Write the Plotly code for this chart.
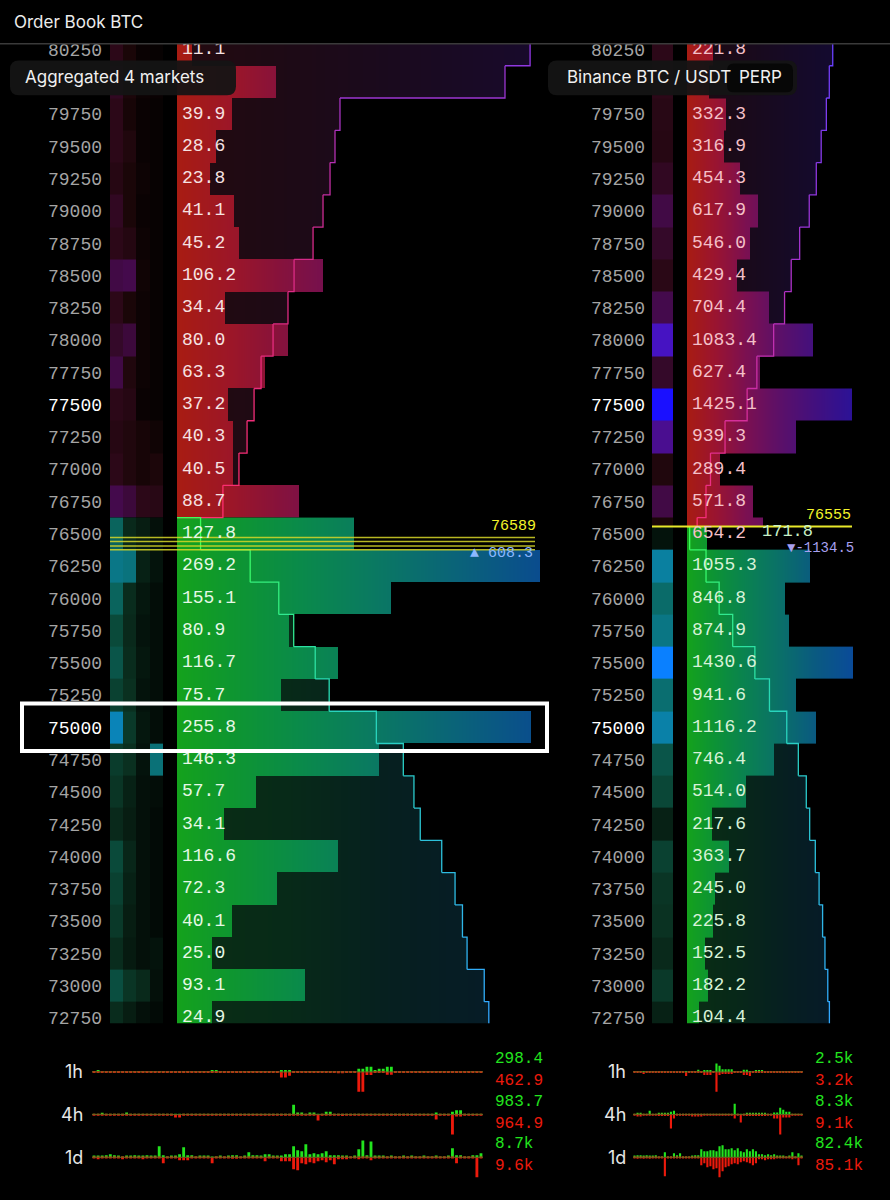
import numpy as np
import plotly.graph_objects as go

W, H = 890, 1200
MONO = "Liberation Mono, DejaVu Sans Mono, monospace"
SANS = "Inter, Noto Sans, sans-serif"

# ---------------------------------------------------------------- data
ask_prices = [80250, 80000, 79750, 79500, 79250, 79000, 78750, 78500,
              78250, 78000, 77750, 77500, 77250, 77000, 76750]
bid_prices = [76500, 76250, 76000, 75750, 75500, 75250, 75000, 74750,
              74500, 74250, 74000, 73750, 73500, 73250, 73000, 72750]
highlight_prices = [77500, 75000]
covered_price = 80000          # row hidden under the market-name boxes

# Aggregated 4 markets
agg_ask_size = [11.1, 72.0, 39.9, 28.6, 23.8, 41.1, 45.2, 106.2, 34.4, 80.0,
                63.3, 37.2, 40.3, 40.5, 88.7]
agg_ask_cum = [1915, 1779, 884, 857, 830, 792, 738, 635, 602, 521, 456, 418,
               380, 336, 249]
agg_bid_size = [127.8, 269.2, 155.1, 80.9, 116.7, 75.7, 255.8, 146.3, 57.7,
                34.1, 116.6, 72.3, 40.1, 25.0, 93.1, 24.9]
agg_mid = 76589
agg_market_last = [76470, 76440, 76405, 76375]
agg_delta = 608.3

# Binance BTC/USDT perp
bn_ask_size = [221.8, 190.0, 332.3, 316.9, 454.3, 617.9, 546.0, 429.4, 704.4,
               1083.4, 627.4, 1425.1, 939.3, 289.4, 571.8]
bn_bid_size = [1055.3, 846.8, 874.9, 1430.6, 941.6, 1116.2, 746.4, 514.0,
               217.6, 363.7, 245.0, 225.8, 152.5, 182.2, 104.4]
bn_mid = 76555
bn_mid_ask = 654.2
bn_mid_bid = 171.8
bn_delta = -1134.5

# history strips (relative intensity)
agg_ask_strip = [[0.35, 0.20, 0.08, 0.05], [0.38, 0.22, 0.10, 0.08],
                 [0.35, 0.18, 0.08, 0.05], [0.35, 0.25, 0.08, 0.05],
                 [0.30, 0.20, 0.10, 0.05], [0.38, 0.20, 0.08, 0.05],
                 [0.35, 0.28, 0.10, 0.05], [0.48, 0.50, 0.12, 0.05],
                 [0.35, 0.20, 0.10, 0.05], [0.40, 0.45, 0.10, 0.05],
                 [0.48, 0.25, 0.10, 0.05], [0.35, 0.30, 0.08, 0.05],
                 [0.30, 0.25, 0.18, 0.12], [0.35, 0.25, 0.18, 0.22],
                 [0.50, 0.45, 0.35, 0.32]]
agg_bid_strip = [[0.62, 0.30, 0.22, 0.12], [0.75, 0.72, 0.25, 0.15],
                 [0.62, 0.32, 0.18, 0.10], [0.50, 0.30, 0.15, 0.10],
                 [0.55, 0.32, 0.18, 0.10], [0.45, 0.35, 0.15, 0.10],
                 [0.88, 0.40, 0.18, 0.10], [0.42, 0.35, 0.15, 0.70],
                 [0.38, 0.25, 0.12, 0.10], [0.30, 0.22, 0.12, 0.08],
                 [0.50, 0.28, 0.12, 0.08], [0.45, 0.25, 0.12, 0.08],
                 [0.40, 0.22, 0.12, 0.08], [0.32, 0.20, 0.12, 0.15],
                 [0.52, 0.38, 0.30, 0.12], [0.32, 0.22, 0.12, 0.08]]
bn_ask_strip = [0.35, 0.35, 0.32, 0.30, 0.38, 0.48, 0.40, 0.33, 0.50, 0.78,
                0.40, 1.00, 0.62, 0.25, 0.48]
bn_mid_ask_strip = 0.20
bn_bid_strip = [0.82, 0.66, 0.74, 1.00, 0.68, 0.84, 0.55, 0.48, 0.25, 0.45,
                0.38, 0.36, 0.30, 0.40, 0.25]
bn_mid_bid_strip = 0.15

# traded volume sparklines (relative volume per bar)
l1h_buy = [0.2, 1.0, 0.4, 0.2, 0.2, 0.2, 0.2, 0.2, 0.2, 0.2,
           0.2, 0.2, 0.2, 0.2, 0.2, 0.2, 0.2, 0.2, 0.3, 0.8,
           0.3, 0.2, 0.2, 0.2, 0.2, 0.2, 0.2, 0.2, 0.3, 1.2,
           1.0, 0.3, 0.2, 0.2, 0.2, 0.2, 0.2, 0.2, 0.2, 0.2,
           0.2, 0.2, 0.2, 0.2, 0.2, 0.2, 1.7, 1.7, 1.0, 0.3,
           0.3, 0.2, 0.2, 0.2, 0.5, 0.3, 0.2, 0.2, 0.2, 0.2,
           0.3, 0.3, 0.2, 0.2, 0.2, 3.0, 3.0, 5.0, 5.0, 1.0,
           3.0, 3.0, 5.0, 5.0, 0.3, 0.2, 0.2, 0.2, 0.2, 0.2,
           0.2, 0.2, 0.2, 0.2, 0.2, 0.2, 0.2, 0.2, 0.2, 0.2,
           0.2, 0.2, 0.2, 0.2, 0.2, 0.2]
l1h_sell = [0.2, 0.3, 0.2, 0.2, 0.2, 0.2, 0.3, 0.2, 0.2, 0.2,
            0.2, 0.2, 0.3, 0.2, 0.2, 0.2, 0.2, 0.2, 0.2, 0.2,
            0.2, 0.2, 0.2, 0.2, 0.2, 0.2, 0.2, 0.2, 0.2, 0.3,
            0.4, 0.2, 0.2, 0.2, 0.2, 0.2, 0.2, 0.2, 0.2, 0.2,
            0.2, 0.2, 0.2, 0.2, 0.2, 0.3, 5.3, 5.3, 3.7, 0.3,
            0.2, 0.2, 0.2, 0.2, 0.2, 0.2, 0.2, 0.2, 0.2, 0.3,
            1.2, 1.2, 0.2, 0.2, 0.2, 19.0, 19.0, 3.0, 3.0, 0.3,
            1.0, 1.0, 2.7, 2.7, 0.3, 0.2, 0.2, 0.2, 0.2, 0.2,
            0.2, 0.2, 0.2, 0.2, 0.2, 0.2, 0.2, 0.2, 0.2, 0.2,
            0.2, 0.2, 0.2, 0.2, 0.2, 0.2]
l4h_buy = [0.3, 0.3, 1.0, 0.3, 0.3, 0.3, 0.3, 0.3, 2.0, 0.3,
           0.3, 0.3, 0.3, 0.3, 0.3, 0.3, 0.3, 0.3, 0.3, 0.3,
           0.7, 0.7, 0.3, 0.3, 0.3, 0.3, 0.3, 0.3, 0.3, 0.3,
           0.3, 0.3, 0.3, 0.3, 0.3, 0.3, 0.3, 0.3, 0.3, 0.3,
           0.3, 0.3, 0.3, 0.3, 0.3, 0.3, 0.3, 0.3, 0.3, 10.0,
           2.0, 2.0, 0.3, 2.0, 2.0, 0.3, 0.3, 3.0, 3.0, 0.3,
           0.3, 0.3, 0.3, 0.3, 0.3, 0.3, 0.3, 0.3, 0.3, 0.3,
           0.3, 0.3, 0.3, 0.3, 0.3, 0.3, 0.3, 0.3, 0.3, 0.3,
           0.3, 0.3, 0.3, 0.3, 2.0, 0.3, 0.3, 0.3, 3.0, 4.5,
           4.5, 0.3, 0.3, 0.3, 0.3, 0.3]
l4h_sell = [0.3, 0.3, 0.3, 0.3, 0.3, 0.3, 0.3, 0.3, 0.3, 0.3,
            0.3, 0.3, 0.3, 0.3, 0.3, 0.3, 0.3, 0.3, 0.3, 0.3,
            3.0, 3.0, 0.3, 0.3, 0.3, 0.3, 0.3, 0.3, 0.3, 0.3,
            0.3, 0.3, 0.3, 0.3, 0.3, 0.3, 0.3, 0.3, 0.3, 0.3,
            0.3, 0.3, 0.3, 0.3, 0.3, 0.3, 0.3, 0.3, 0.3, 0.3,
            0.3, 0.3, 0.3, 0.3, 0.3, 6.0, 0.3, 0.3, 0.3, 0.3,
            0.3, 1.5, 0.3, 0.3, 0.3, 0.3, 0.3, 0.3, 0.3, 0.3,
            0.3, 0.3, 0.3, 0.3, 0.3, 0.3, 0.3, 0.3, 0.3, 0.3,
            0.3, 0.3, 0.3, 0.3, 5.0, 0.3, 0.3, 0.3, 20.0, 2.0,
            2.0, 0.3, 0.3, 0.3, 0.3, 0.3]
l1d_buy = [1.0, 1.5, 1.0, 2.0, 3.0, 2.0, 1.0, 0.5, 1.5, 1.0,
           2.0, 1.0, 1.5, 2.0, 1.5, 1.0, 11.0, 2.0, 0.5, 1.0,
           1.0, 3.0, 10.0, 2.0, 2.0, 0.5, 1.5, 1.0, 1.5, 0.5,
           0.5, 1.0, 0.5, 1.0, 2.0, 2.0, 0.5, 1.0, 5.0, 2.0,
           2.0, 1.0, 3.0, 3.0, 1.0, 1.0, 1.0, 3.0, 3.0, 11.0,
           7.0, 6.0, 13.0, 3.0, 4.0, 3.0, 4.0, 6.0, 2.0, 2.0,
           2.0, 1.5, 1.0, 0.5, 1.0, 8.0, 17.0, 2.0, 16.0, 1.0,
           1.0, 1.0, 0.5, 1.0, 0.5, 0.5, 1.0, 0.5, 1.0, 0.5,
           0.5, 1.0, 0.5, 0.5, 1.0, 0.5, 0.5, 1.0, 9.0, 2.0,
           2.0, 0.5, 0.5, 2.0, 2.0, 4.0]
l1d_sell = [0.5, 2.0, 1.0, 0.5, 1.0, 0.5, 1.0, 2.0, 0.5, 1.0,
            0.5, 1.0, 2.0, 0.5, 1.0, 0.5, 1.0, 6.0, 1.0, 0.5,
            1.0, 3.0, 3.0, 3.0, 1.0, 0.5, 1.0, 0.5, 1.0, 6.0,
            1.0, 0.5, 1.0, 0.5, 1.5, 1.5, 0.5, 1.0, 0.5, 1.0,
            0.5, 1.0, 4.0, 1.0, 0.5, 1.0, 4.0, 4.0, 4.0, 12.0,
            13.0, 6.0, 7.0, 5.0, 6.0, 4.0, 3.0, 5.0, 3.0, 7.0,
            2.0, 2.0, 2.0, 0.5, 1.0, 2.0, 1.0, 0.5, 3.0, 1.0,
            0.5, 1.0, 0.5, 0.5, 1.0, 0.5, 0.5, 1.0, 0.5, 1.0,
            0.5, 1.0, 0.5, 1.0, 0.5, 0.5, 1.0, 0.5, 1.0, 6.0,
            1.0, 1.0, 0.5, 0.5, 20.0, 1.0]

r1h_buy = [0.3, 0.3, 0.5, 0.5, 0.3, 0.3, 0.3, 0.3, 0.3, 0.3,
           0.3, 0.3, 0.3, 0.3, 0.3, 0.3, 0.3, 0.3, 0.5, 0.5,
           0.5, 2.0, 0.5, 1.5, 1.5, 1.5, 0.5, 8.0, 6.0, 2.5,
           2.5, 2.5, 2.5, 0.5, 0.5, 0.5, 2.0, 2.0, 0.5, 0.5,
           1.0, 1.0, 1.0, 0.5, 0.3, 0.3, 0.3, 0.3, 0.3, 0.3,
           0.3, 0.3, 0.3, 0.3, 0.3, 0.3]
r1h_sell = [0.3, 0.3, 0.3, 2.0, 1.0, 0.3, 0.3, 0.3, 0.3, 0.3,
            0.3, 0.3, 0.3, 0.3, 0.3, 0.3, 0.3, 4.0, 1.0, 1.0,
            0.3, 0.3, 0.3, 3.0, 3.0, 3.0, 0.3, 19.0, 3.0, 2.0,
            2.0, 2.0, 2.0, 0.3, 0.3, 0.3, 3.0, 3.0, 4.0, 0.3,
            0.3, 0.3, 0.3, 0.3, 0.3, 0.3, 0.3, 0.3, 0.3, 0.3,
            0.3, 0.3, 0.3, 0.3, 0.3, 0.3]
r4h_buy = [0.4, 1.0, 1.0, 0.4, 0.4, 4.0, 0.4, 0.4, 1.5, 1.5,
           1.5, 1.5, 3.0, 4.0, 0.4, 0.4, 0.4, 0.4, 0.4, 0.4,
           0.4, 0.4, 0.4, 0.4, 0.4, 0.4, 0.4, 0.4, 0.4, 0.4,
           0.4, 0.4, 0.4, 11.0, 0.4, 0.4, 0.4, 1.0, 1.0, 1.0,
           1.0, 1.0, 1.0, 1.0, 0.4, 0.4, 2.0, 2.0, 7.0, 5.0,
           3.0, 3.0, 0.4, 0.4, 0.4, 0.4]
r4h_sell = [0.4, 2.0, 2.0, 0.4, 0.4, 0.4, 0.4, 0.4, 1.5, 1.5,
            1.5, 1.5, 14.0, 4.0, 0.4, 0.4, 0.4, 0.4, 0.4, 2.0,
            2.0, 2.0, 2.0, 0.4, 0.4, 0.4, 0.4, 0.4, 0.4, 0.4,
            0.4, 0.4, 0.4, 4.0, 0.4, 8.0, 0.4, 1.5, 1.5, 1.5,
            1.5, 1.5, 1.5, 1.5, 0.4, 0.4, 4.0, 4.0, 20.0, 3.0,
            3.0, 3.0, 0.4, 0.4, 0.4, 0.4]
r1d_buy = [1.0, 2.0, 2.0, 1.5, 2.0, 1.0, 1.5, 2.0, 0.5, 0.5,
           5.0, 0.5, 0.5, 4.0, 2.0, 4.0, 0.5, 0.5, 0.5, 1.0,
           2.0, 2.0, 8.0, 6.0, 6.0, 7.0, 7.0, 6.0, 11.0, 12.0,
           8.0, 8.0, 9.0, 7.0, 9.0, 6.0, 5.0, 8.0, 6.0, 8.0,
           6.0, 3.0, 3.0, 2.0, 3.0, 2.0, 3.0, 1.0, 1.0, 1.0,
           0.5, 1.0, 5.0, 0.5, 4.0, 1.0]
r1d_sell = [1.0, 1.5, 1.0, 1.5, 1.0, 1.5, 1.0, 1.0, 0.5, 0.5,
            19.0, 0.5, 0.5, 1.0, 0.5, 1.0, 0.5, 0.5, 0.5, 0.5,
            1.0, 1.0, 8.0, 6.0, 10.0, 9.0, 12.0, 11.0, 20.0, 14.0,
            10.0, 9.0, 7.0, 6.0, 7.0, 5.0, 4.0, 5.0, 6.0, 8.0,
            6.0, 2.0, 2.0, 3.0, 2.0, 2.0, 2.0, 1.0, 1.0, 1.0,
            0.5, 0.5, 2.0, 0.5, 8.0, 1.0]

spark_labels = ["1h", "4h", "1d"]
agg_spark_totals = [("298.4", "462.9"), ("983.7", "964.9"), ("8.7k", "9.6k")]
bn_spark_totals = [("2.5k", "3.2k"), ("8.3k", "9.1k"), ("82.4k", "85.1k")]

# ---------------------------------------------------------------- geometry
ROW = 250
Y_RANGE = [72707.8, 80295.8]
DEPTH_SCALE = 0.1336          # cumulative depth drawn at this fraction of the bar scale
K_L, X0_L = 1.38, 177          # px per BTC, pixel of zero (left)
K_R, X0_R = 0.116, 687         # px per BTC, pixel of zero (right)
XR_L = [(110 - X0_L) / K_L, (540 - X0_L) / K_L]
XR_R = [(652 - X0_R) / K_R, (855 - X0_R) / K_R]
Y_DOM = [1 - 1028 / H, 1 - 41 / H]


def px_x(px):
    return px / W


def px_y(py):
    return 1 - py / H


def hex2rgb(h):
    h = h.lstrip('#')
    return [int(h[i:i + 2], 16) for i in (0, 2, 4)]


def interp_color(stops, t):
    t = min(max(t, 0), 1)
    for (p0, c0), (p1, c1) in zip(stops[:-1], stops[1:]):
        if p0 <= t <= p1:
            f = 0 if p1 == p0 else (t - p0) / (p1 - p0)
            a, b = hex2rgb(c0), hex2rgb(c1)
            return 'rgb(%d,%d,%d)' % tuple(round(a[i] + (b[i] - a[i]) * f) for i in range(3))
    return stops[-1][1]


fig = go.Figure()


def depth_heatmap(y_edges, sizes, depths, xmax, step, bar_stops, bg_stops, xa, ya):
    edges = np.arange(0, xmax + step, step)
    centers = edges[:-1] + step / 2
    z = []
    for s, d in zip(sizes, depths):
        row = []
        for c in centers:
            if c < s:
                row.append(1 + c / xmax)
            elif c < d:
                row.append(c / xmax * 0.999)
            else:
                row.append(None)
        z.append(row)
    cs = [[p * 0.4995, col] for p, col in bg_stops] + [[0.5 + p * 0.5, col] for p, col in bar_stops]
    fig.add_trace(go.Heatmap(x=list(edges), y=list(y_edges), z=z, zmin=0, zmax=2,
                             colorscale=cs, showscale=False, hoverinfo='skip',
                             xaxis=xa, yaxis=ya, zsmooth=False))


def strip_heatmap(x_edges, y_edges, z, cs, xa, ya):
    fig.add_trace(go.Heatmap(x=x_edges, y=y_edges, z=z, zmin=0, zmax=1, colorscale=cs,
                             showscale=False, hoverinfo='skip', xaxis=xa, yaxis=ya,
                             zsmooth=False))


def outline(rows, depths, stops, xa, ya):
    # rows: list of (near_edge, far_edge) ordered from the spread outwards
    prev = 0
    n = len(rows)
    for i, ((near, far), d) in enumerate(zip(rows, depths)):
        col = interp_color(stops, i / max(n - 1, 1))
        fig.add_trace(go.Scatter(x=[prev, d, d], y=[near, near, far], mode='lines',
                                 line=dict(color=col, width=1.3), hoverinfo='skip',
                                 xaxis=xa, yaxis=ya, showlegend=False))
        prev = d


def value_labels(prices, values):
    return ['' if p == covered_price else '%.1f' % v for p, v in zip(prices, values)]


ASK_STRIP_CS = [[0, '#000000'], [0.2, '#1a0608'], [0.35, '#2c0818'], [0.5, '#440a4c'],
                [0.62, '#4a0e90'], [0.8, '#4614c8'], [1, '#1a10ff']]
BID_STRIP_CS = [[0, '#000000'], [0.2, '#061a10'], [0.35, '#0a3020'], [0.5, '#0a4a3a'],
                [0.65, '#0a6a66'], [0.8, '#0a7e98'], [0.9, '#0a86c0'], [1, '#0a80ff']]

L_ASK_BAR = [(0, '#a81c12'), (0.15, '#9c1628'), (0.285, '#86123c'), (0.42, '#741050'),
             (0.61, '#600e60'), (1, '#3e0c7a')]
L_ASK_BG = [(0, '#240a10'), (0.25, '#1e0a14'), (0.6, '#1a0a1e'), (1, '#180a2c')]
L_BID_BAR = [(0, '#14a21c'), (0.15, '#0e9630'), (0.34, '#0a8a4a'), (0.53, '#0a7a60'),
             (0.76, '#0a6478'), (1, '#0a4c8e')]
L_BID_BG = [(0, '#0a2e14'), (0.3, '#072a18'), (0.6, '#061f20'), (1, '#061a2a')]
R_ASK_BAR = [(0, '#a81c12'), (0.17, '#9a1430'), (0.345, '#7c1050'), (0.55, '#5c1068'),
             (0.76, '#42107e'), (1, '#2a1298')]
R_ASK_BG = [(0, '#200a10'), (0.28, '#1a0a18'), (0.62, '#160a26'), (1, '#120a34')]
R_BID_BAR = [(0, '#14a21c'), (0.17, '#0c9236'), (0.345, '#0a8250'), (0.55, '#0a7068'),
             (0.76, '#0a5a80'), (1, '#0a4a9a')]
R_BID_BG = [(0, '#0a2e14'), (0.28, '#072818'), (0.62, '#061e22'), (1, '#06182c')]

ASK_LINE = [(0, '#ff2e6e'), (0.6, '#d42a8a'), (1, '#9038e0')]
ASK_LINE_R = [(0, '#ff2e6e'), (0.5, '#b030c0'), (1, '#6a40ff')]
BID_LINE = [(0, '#3cff5a'), (0.35, '#28d8b8'), (1, '#32a8ff')]

# ---------------------------------------------------------------- left panel
asc_ask_prices = ask_prices[::-1]
l_ask_edges = [asc_ask_prices[0] - ROW / 2] + [p + ROW / 2 for p in asc_ask_prices]
asc_bid_prices = bid_prices[::-1]
l_bid_edges = [asc_bid_prices[0] - ROW / 2] + [p + ROW / 2 for p in asc_bid_prices]

l_ask_depth = [DEPTH_SCALE * c for c in agg_ask_cum]
l_bid_depth = list(DEPTH_SCALE * np.cumsum(agg_bid_size))

strip_px_l = [110, 123, 136, 150, 163]
strip_x_l = [(p - X0_L) / K_L for p in strip_px_l]
strip_heatmap(strip_x_l, l_ask_edges, agg_ask_strip[::-1], ASK_STRIP_CS, 'x', 'y')
strip_heatmap(strip_x_l, l_bid_edges, agg_bid_strip[::-1], BID_STRIP_CS, 'x', 'y')

depth_heatmap(l_ask_edges, agg_ask_size[::-1], l_ask_depth[::-1], XR_L[1], 0.5,
              L_ASK_BAR, L_ASK_BG, 'x', 'y')
depth_heatmap(l_bid_edges, agg_bid_size[::-1], l_bid_depth[::-1], XR_L[1], 0.5,
              L_BID_BAR, L_BID_BG, 'x', 'y')

outline([(p - ROW / 2, p + ROW / 2) for p in asc_ask_prices], l_ask_depth[::-1],
        ASK_LINE, 'x', 'y')
outline([(p + ROW / 2, p - ROW / 2) for p in bid_prices], l_bid_depth, BID_LINE, 'x', 'y')

# market last-price lines
x_line_end_l = (535 - X0_L) / K_L
for p in agg_market_last:
    fig.add_trace(go.Scatter(x=[XR_L[0], x_line_end_l], y=[p, p], mode='lines',
                             line=dict(color='rgba(215,215,40,0.85)', width=1.5),
                             hoverinfo='skip', xaxis='x', yaxis='y', showlegend=False))

pad_l = 5 / K_L
fig.add_trace(go.Scatter(x=[pad_l] * len(ask_prices), y=ask_prices,
                         text=value_labels(ask_prices, agg_ask_size), mode='text',
                         textposition='middle right',
                         textfont=dict(family=MONO, size=18, color='#f6e2e2'),
                         hoverinfo='skip', xaxis='x', yaxis='y', showlegend=False))
fig.add_trace(go.Scatter(x=[pad_l] * len(bid_prices), y=bid_prices,
                         text=value_labels(bid_prices, agg_bid_size), mode='text',
                         textposition='middle right',
                         textfont=dict(family=MONO, size=18, color='#e6f8e6'),
                         hoverinfo='skip', xaxis='x', yaxis='y', showlegend=False))

# ---------------------------------------------------------------- right panel
r_ask_edges = [bn_mid, asc_ask_prices[0] - ROW / 2] + [p + ROW / 2 for p in asc_ask_prices]
r_bid_edges = [asc_bid_prices[0] - ROW / 2] + [p + ROW / 2 for p in asc_bid_prices[:-1]] + [bn_mid]

r_ask_sizes_out = [bn_mid_ask] + bn_ask_size[::-1]          # from spread outwards
r_ask_depth_out = list(DEPTH_SCALE * np.cumsum(r_ask_sizes_out))
r_bid_sizes_out = [bn_mid_bid] + bn_bid_size                # from spread outwards
r_bid_depth_out = list(DEPTH_SCALE * np.cumsum(r_bid_sizes_out))

strip_x_r = [(652 - X0_R) / K_R, (673 - X0_R) / K_R]
strip_heatmap(strip_x_r, r_ask_edges,
              [[v] for v in [bn_mid_ask_strip] + bn_ask_strip[::-1]], ASK_STRIP_CS, 'x2', 'y2')
strip_heatmap(strip_x_r, r_bid_edges,
              [[v] for v in (bn_bid_strip[::-1] + [bn_mid_bid_strip])], BID_STRIP_CS, 'x2', 'y2')

depth_heatmap(r_ask_edges, r_ask_sizes_out, r_ask_depth_out, XR_R[1], 4,
              R_ASK_BAR, R_ASK_BG, 'x2', 'y2')
depth_heatmap(r_bid_edges, r_bid_sizes_out[::-1], r_bid_depth_out[::-1], XR_R[1], 4,
              R_BID_BAR, R_BID_BG, 'x2', 'y2')

r_ask_rows = [(r_ask_edges[i], r_ask_edges[i + 1]) for i in range(len(r_ask_edges) - 1)]
outline(r_ask_rows, r_ask_depth_out, ASK_LINE_R, 'x2', 'y2')
r_bid_desc = r_bid_edges[::-1]
r_bid_rows = [(r_bid_desc[i], r_bid_desc[i + 1]) for i in range(len(r_bid_desc) - 1)]
outline(r_bid_rows, r_bid_depth_out, BID_LINE, 'x2', 'y2')

fig.add_trace(go.Scatter(x=[XR_R[0], (852 - X0_R) / K_R], y=[bn_mid, bn_mid], mode='lines',
                         line=dict(color='#e8e82a', width=2), hoverinfo='skip',
                         xaxis='x2', yaxis='y2', showlegend=False))

pad_r = 5 / K_R
fig.add_trace(go.Scatter(x=[pad_r] * (len(ask_prices) + 1), y=ask_prices + [bid_prices[0]],
                         text=value_labels(ask_prices + [bid_prices[0]], bn_ask_size + [bn_mid_ask]),
                         mode='text', textposition='middle right',
                         textfont=dict(family=MONO, size=18, color='#f4c0c8'),
                         hoverinfo='skip', xaxis='x2', yaxis='y2', showlegend=False))
fig.add_trace(go.Scatter(x=[pad_r] * len(bn_bid_size), y=bid_prices[1:],
                         text=value_labels(bid_prices[1:], bn_bid_size), mode='text',
                         textposition='middle right',
                         textfont=dict(family=MONO, size=18, color='#d8f2d8'),
                         hoverinfo='skip', xaxis='x2', yaxis='y2', showlegend=False))

# ---------------------------------------------------------------- sparklines
spark_series = [
    (l1h_buy, l1h_sell), (l4h_buy, l4h_sell), (l1d_buy, l1d_sell),
    (r1h_buy, r1h_sell), (r4h_buy, r4h_sell), (r1d_buy, r1d_sell),
]
spark_centers = [1077, 1120, 1163]
spark_axes = {}
for k, (buy, sell) in enumerate(spark_series):
    n = k + 3
    xa, ya = 'x%d' % n, 'y%d' % n
    N = len(buy)
    idx = list(range(N))
    fig.add_trace(go.Scatter(x=[-0.5, N - 0.5], y=[0, 0], mode='lines',
                             line=dict(color='#6e6020', width=1), hoverinfo='skip',
                             xaxis=xa, yaxis=ya, showlegend=False))
    fig.add_trace(go.Bar(x=idx, y=buy, marker=dict(color='#22e41e', line=dict(width=0)),
                         width=0.7, hoverinfo='skip', xaxis=xa, yaxis=ya, showlegend=False))
    fig.add_trace(go.Bar(x=idx, y=[-v for v in sell],
                         marker=dict(color='#ec1a0c', line=dict(width=0)),
                         width=0.7, hoverinfo='skip', xaxis=xa, yaxis=ya, showlegend=False))
    R = max(max(buy), max(sell)) * 1.1
    side = 0 if k < 3 else 1
    cy = spark_centers[k % 3]
    xdom = [px_x(92), px_x(483)] if side == 0 else [px_x(633), px_x(803)]
    spark_axes[n] = dict(xdom=xdom, ydom=[px_y(cy + 22), px_y(cy - 22)],
                         xr=[-0.5, N - 0.5], yr=[-R, R])

# ---------------------------------------------------------------- layout
tick_vals = ask_prices + bid_prices
tick_text = []
for p in tick_vals:
    if p == covered_price:
        tick_text.append('')
    elif p in highlight_prices:
        tick_text.append('<span style="color:#ffffff">%d</span>' % p)
    else:
        tick_text.append(str(p))

axis_common = dict(showgrid=False, zeroline=False, showline=False, ticks='',
                   fixedrange=True)
layout = dict(
    width=W, height=H, margin=dict(l=0, r=0, t=0, b=0),
    paper_bgcolor='#000000', plot_bgcolor='#000000',
    showlegend=False, hovermode=False, barmode='overlay',
    xaxis=dict(domain=[px_x(110), px_x(540)], range=XR_L, showticklabels=False,
               anchor='y', **axis_common),
    yaxis=dict(domain=Y_DOM, range=Y_RANGE, anchor='x', tickmode='array',
               tickvals=tick_vals, ticktext=tick_text, ticklabelstandoff=7,
               tickfont=dict(family=MONO, size=18, color='#a4a4a4'), **axis_common),
    xaxis2=dict(domain=[px_x(652), px_x(855)], range=XR_R, showticklabels=False,
                anchor='y2', **axis_common),
    yaxis2=dict(domain=Y_DOM, range=Y_RANGE, anchor='x2', tickmode='array',
                tickvals=tick_vals, ticktext=tick_text, ticklabelstandoff=6,
                tickfont=dict(family=MONO, size=18, color='#a4a4a4'), **axis_common),
)
for n, a in spark_axes.items():
    layout['xaxis%d' % n] = dict(domain=a['xdom'], range=a['xr'], anchor='y%d' % n,
                                 showticklabels=False, **axis_common)
    layout['yaxis%d' % n] = dict(domain=a['ydom'], range=a['yr'], anchor='x%d' % n,
                                 showticklabels=False, **axis_common)
fig.update_layout(**layout)


def rounded_rect(x0, y0, x1, y1, r):
    pts = lambda x, y: '%f,%f' % (px_x(x), px_y(y))
    return ('M %s L %s Q %s %s L %s Q %s %s L %s Q %s %s L %s Q %s %s Z' % (
        pts(x0 + r, y0), pts(x1 - r, y0), pts(x1, y0), pts(x1, y0 + r),
        pts(x1, y1 - r), pts(x1, y1), pts(x1 - r, y1), pts(x0 + r, y1),
        pts(x0, y1), pts(x0, y1 - r), pts(x0, y0 + r), pts(x0, y0), pts(x0 + r, y0)))


shapes = [
    dict(type='rect', xref='paper', yref='paper', x0=0, x1=1, y0=px_y(41), y1=1,
         fillcolor='#000000', line=dict(width=0), layer='above'),
    dict(type='line', xref='paper', yref='paper', x0=0, x1=1, y0=px_y(41), y1=px_y(41),
         line=dict(color='#3a3a3a', width=1.5), layer='above'),
    dict(type='path', xref='paper', yref='paper', path=rounded_rect(10, 58, 236, 93, 9),
         fillcolor='rgba(20,20,20,0.94)', line=dict(width=0), layer='above'),
    dict(type='path', xref='paper', yref='paper', path=rounded_rect(548, 58, 797, 93, 9),
         fillcolor='rgba(20,20,20,0.94)', line=dict(width=0), layer='above'),
    dict(type='path', xref='paper', yref='paper', path=rounded_rect(727, 61, 793, 90, 7),
         fillcolor='rgba(6,6,6,0.95)', line=dict(width=0), layer='above'),
    dict(type='rect', xref='paper', yref='y', x0=px_x(22), x1=px_x(547),
         y0=highlight_prices[1] - 184, y1=highlight_prices[1] + 185,
         line=dict(color='#ffffff', width=4), fillcolor='rgba(0,0,0,0)', layer='above'),
]

annotations = [
    dict(text='Order Book BTC', x=px_x(12), y=px_y(19), xanchor='left', yanchor='middle',
         font=dict(family=SANS, size=17, color='#ececec')),
    dict(text='Aggregated 4 markets', x=px_x(23), y=px_y(75), xanchor='left', yanchor='middle',
         font=dict(family=SANS, size=17, color='#f0f0f0')),
    dict(text='Binance BTC / USDT', x=px_x(565), y=px_y(75), xanchor='left', yanchor='middle',
         font=dict(family=SANS, size=17, color='#f0f0f0')),
    dict(text='PERP', x=px_x(737), y=px_y(75), xanchor='left', yanchor='middle',
         font=dict(family=SANS, size=17, color='#f0f0f0')),
    dict(text=str(agg_mid), x=px_x(538), y=px_y(527), xanchor='right', yanchor='middle',
         font=dict(family=MONO, size=15, color='#f4f42a')),
    dict(text='\u25b2 %.1f' % agg_delta, x=px_x(535), y=px_y(555), xanchor='right',
         yanchor='middle', font=dict(family=MONO, size=15, color='#8cb8ff')),
    dict(text=str(bn_mid), x=px_x(853), y=px_y(516), xanchor='right', yanchor='middle',
         font=dict(family=MONO, size=15, color='#f4f42a')),
    dict(text='%.1f' % bn_mid_bid, x=px_x(760), y=px_y(532), xanchor='left', yanchor='middle',
         font=dict(family=MONO, size=17, color='#c8f0c8')),
    dict(text='\u25bc%.1f' % bn_delta, x=px_x(856), y=px_y(549), xanchor='right',
         yanchor='middle', font=dict(family=MONO, size=14, color='#a8a0f0')),
]
for i, lab in enumerate(spark_labels):
    cy = spark_centers[i]
    for lx, vx, totals in [(85, 493, agg_spark_totals), (628, 813, bn_spark_totals)]:
        annotations.append(dict(text=lab, x=px_x(lx), y=px_y(cy), xanchor='right',
                                yanchor='middle', font=dict(family=SANS, size=18, color='#e6e6e6')))
        annotations.append(dict(text=totals[i][0], x=px_x(vx), y=px_y(cy - 13), xanchor='left',
                                yanchor='middle', font=dict(family=MONO, size=16, color='#22e41e')))
        annotations.append(dict(text=totals[i][1], x=px_x(vx), y=px_y(cy + 9), xanchor='left',
                                yanchor='middle', font=dict(family=MONO, size=16, color='#ec1a0c')))
for a in annotations:
    a.setdefault('xref', 'paper')
    a.setdefault('yref', 'paper')
    a['showarrow'] = False

fig.update_layout(shapes=shapes, annotations=annotations)
fig.write_html("out.html")
